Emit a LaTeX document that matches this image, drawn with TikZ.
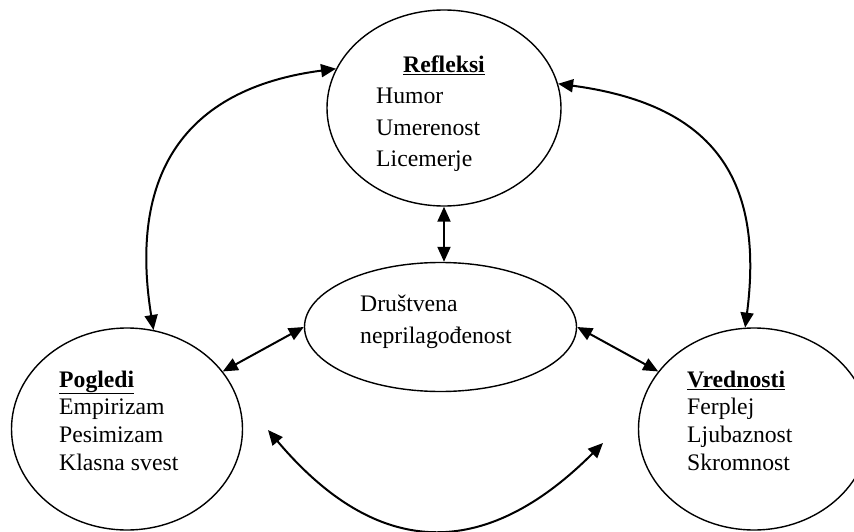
\documentclass[tikz,border=0pt]{standalone}
\usepackage{fontspec}
\setmainfont{Liberation Serif}
\usetikzlibrary{shapes.geometric,arrows.meta}

\tikzset{
  oval/.style={ellipse, draw, line width=1.4pt, inner sep=0pt, fill=white},
  dbl/.style={line width=2pt,
    arrows={Triangle[length=15pt,width=13pt]-Triangle[length=15pt,width=13pt]}},
  txt/.style={inner sep=0pt, anchor=base west, font=\fontsize{23.7}{27.7}\selectfont},
  txtwide/.style={txt, font=\fontsize{23.7}{31.5}\selectfont},
}

\begin{document}
\begin{tikzpicture}[x=1pt,y=-1pt]
\useasboundingbox (0,0) rectangle (854,532);
\clip (0,0) rectangle (854,532);

% the four ovals
\node[oval, minimum width=234pt, minimum height=196pt] (refl) at (444,108) {};
\node[oval, minimum width=231pt, minimum height=202pt] (pog)  at (127,429) {};
\node[oval, minimum width=231pt, minimum height=202pt] (vred) at (754,429) {};
\node[oval, minimum width=272pt, minimum height=129pt] (soc)  at (440.5,327) {};

% free ends of the lower arc
\coordinate (lowL) at (268,430);
\coordinate (lowR) at (603,443);

% labels
\node[txt, anchor=base] (reflh) at (444,73) {\textbf{\underline{Refleksi}}};
\node[txtwide] (reflt) at (376,104)
  {\begin{tabular}[t]{@{}l@{}}Humor\\ Umerenost\\ Licemerje\end{tabular}};
\node[txt] (pogt) at (59,387)
  {\begin{tabular}[t]{@{}l@{}}\textbf{\underline{Pogledi}}\\ Empirizam\\ Pesimizam\\ Klasna svest\end{tabular}};
\node[txt] (vredt) at (687,387)
  {\begin{tabular}[t]{@{}l@{}}\textbf{\underline{Vrednosti}}\\ Ferplej\\ Ljubaznost\\ Skromnost\end{tabular}};
\node[txt, font=\fontsize{23.7}{32}\selectfont] (soct) at (360,311)
  {\begin{tabular}[t]{@{}l@{}}Društvena\\ neprilagođenost\end{tabular}};

% connectors
\draw[dbl] (refl.south) -- (refl.south |- soc.north);
\draw[dbl] (soc.west) -- (pog.31.5);
\draw[dbl] (soc.east) -- (vred.149.3);
\draw[dbl] (pog.75) .. controls (129,178) and (181,89) .. (refl.160);
\draw[dbl] (refl.12) .. controls (709,104) and (765,174) .. (vred.95);
\draw[dbl] (lowL) .. controls (377,559) and (484,562) .. (lowR);
\end{tikzpicture}
\end{document}
